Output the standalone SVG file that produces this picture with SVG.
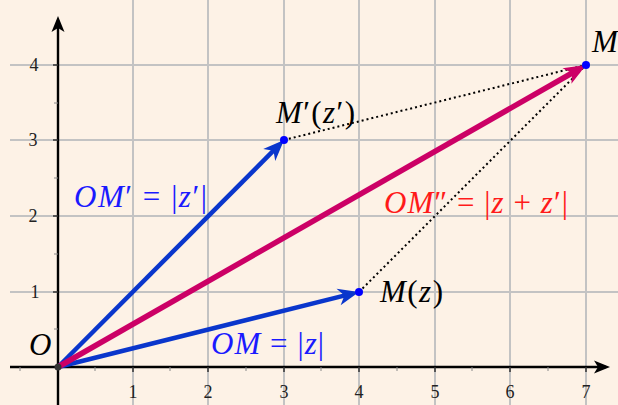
<svg xmlns="http://www.w3.org/2000/svg" width="618" height="405" viewBox="0 0 618 405">
<style>
.grid{stroke:#c3c3c3;stroke-width:2;fill:none}
.axis{stroke:#000;stroke-width:2.4;fill:none}
.tick{stroke:#333;stroke-width:1.5}
.mtick{stroke:#888;stroke-width:1}
.tl{font-family:"Liberation Serif",serif;font-size:18px;fill:#222;text-anchor:middle}
.m{font-family:"Liberation Serif",serif;font-size:31px}
.i{font-style:italic}
.dot{stroke:#000;stroke-width:2;stroke-dasharray:2 3;fill:none}
</style>
<defs>
<marker id="ab" markerUnits="userSpaceOnUse" orient="auto" refX="0" refY="0" markerWidth="30" markerHeight="30" viewBox="-15 -15 30 30" overflow="visible">
<path d="M8,0 L-13,-8.5 L-7,0 L-13,8.5 Z" fill="#0a36cc"/>
</marker>
<marker id="am" markerUnits="userSpaceOnUse" orient="auto" refX="0" refY="0" markerWidth="30" markerHeight="30" viewBox="-15 -15 30 30" overflow="visible">
<path d="M8,0 L-14,-9 L-8,0 L-14,9 Z" fill="#cc0066"/>
</marker>
<marker id="ax" markerUnits="userSpaceOnUse" orient="auto" refX="0" refY="0" markerWidth="30" markerHeight="30" viewBox="-15 -15 30 30" overflow="visible">
<path d="M4,0 L-12,-6.5 L-8,0 L-12,6.5 Z" fill="#000"/>
</marker>
</defs>
<rect width="618" height="405" fill="#fdf2e6"/>
<g id="grid">
<path class="grid" d="M133,0V405M208,0V405M284,0V405M359,0V405M435,0V405M510,0V405M586,0V405M10,292H618M10,216H618M10,140H618M10,65H618"/>
</g>
<g id="axes">
<path class="axis" d="M10,367H606" marker-end="url(#ax)"/>
<path class="axis" d="M58,405V20" marker-end="url(#ax)"/>
<path class="tick" d="M133,367v5M208,367v5M284,367v5M359,367v5M435,367v5M510,367v5M586,367v5M53,292h5M53,216h5M53,140h5M53,65h5"/>
<path class="mtick" d="M20,367v4M95,367v4M170,367v4M246,367v4M321,367v4M397,367v4M472,367v4M548,367v4M54,329h4M54,254h4M54,178h4M54,103h4"/>
<text class="tl" x="133" y="398">1</text>
<text class="tl" x="208" y="398">2</text>
<text class="tl" x="284" y="398">3</text>
<text class="tl" x="359" y="398">4</text>
<text class="tl" x="435" y="398">5</text>
<text class="tl" x="510" y="398">6</text>
<text class="tl" x="586" y="398">7</text>
<text class="tl" x="35" y="298">1</text>
<text class="tl" x="33" y="222">2</text>
<text class="tl" x="33" y="146">3</text>
<text class="tl" x="34" y="71">4</text>
</g>
<g id="connectors">
<path class="dot" d="M284,140L586,65"/>
<path class="dot" d="M359,292L586,65"/>
<path d="M58,367L351.2,293.9" stroke="#0a36cc" stroke-width="4.5" fill="none" marker-end="url(#ab)"/>
<path d="M58,367L278.4,145.7" stroke="#0a36cc" stroke-width="4.5" fill="none" marker-end="url(#ab)"/>
<path d="M58,367L579.1,69" stroke="#cc0066" stroke-width="5.5" fill="none" marker-end="url(#am)"/>
</g>
<g id="O">
<circle cx="58" cy="367" r="3.5" fill="#333"/>
<text class="m i" x="29" y="355" fill="#000">O</text>
</g>
<g id="Mz">
<circle cx="359" cy="292" r="4" fill="#0000ff"/>
<text class="m" x="380" y="302" fill="#000" textLength="63" lengthAdjust="spacing"><tspan class="i">M</tspan>(<tspan class="i">z</tspan>)</text>
</g>
<g id="Mpz">
<circle cx="284" cy="140" r="4" fill="#0000ff"/>
<text class="m" x="276" y="123" fill="#000" textLength="79" lengthAdjust="spacing"><tspan class="i">M</tspan>′(<tspan class="i">z</tspan>′)</text>
</g>
<g id="Mpp">
<circle cx="586" cy="65" r="4" fill="#0000ff"/>
<text class="m i" x="592" y="52" fill="#000">M</text>
</g>
<g id="labels">
<text class="m" x="211" y="354" fill="#1a1aff" textLength="113" lengthAdjust="spacing"><tspan class="i">OM</tspan> = |<tspan class="i">z</tspan>|</text>
<text class="m" x="74" y="207" fill="#1a1aff" textLength="133" lengthAdjust="spacing"><tspan class="i">OM</tspan>′ = |<tspan class="i">z</tspan>′|</text>
<text class="m" x="384" y="213" fill="#ff1a1a" textLength="184" lengthAdjust="spacing"><tspan class="i">OM</tspan>″ = |<tspan class="i">z</tspan> + <tspan class="i">z</tspan>′|</text>
</g>
</svg>
